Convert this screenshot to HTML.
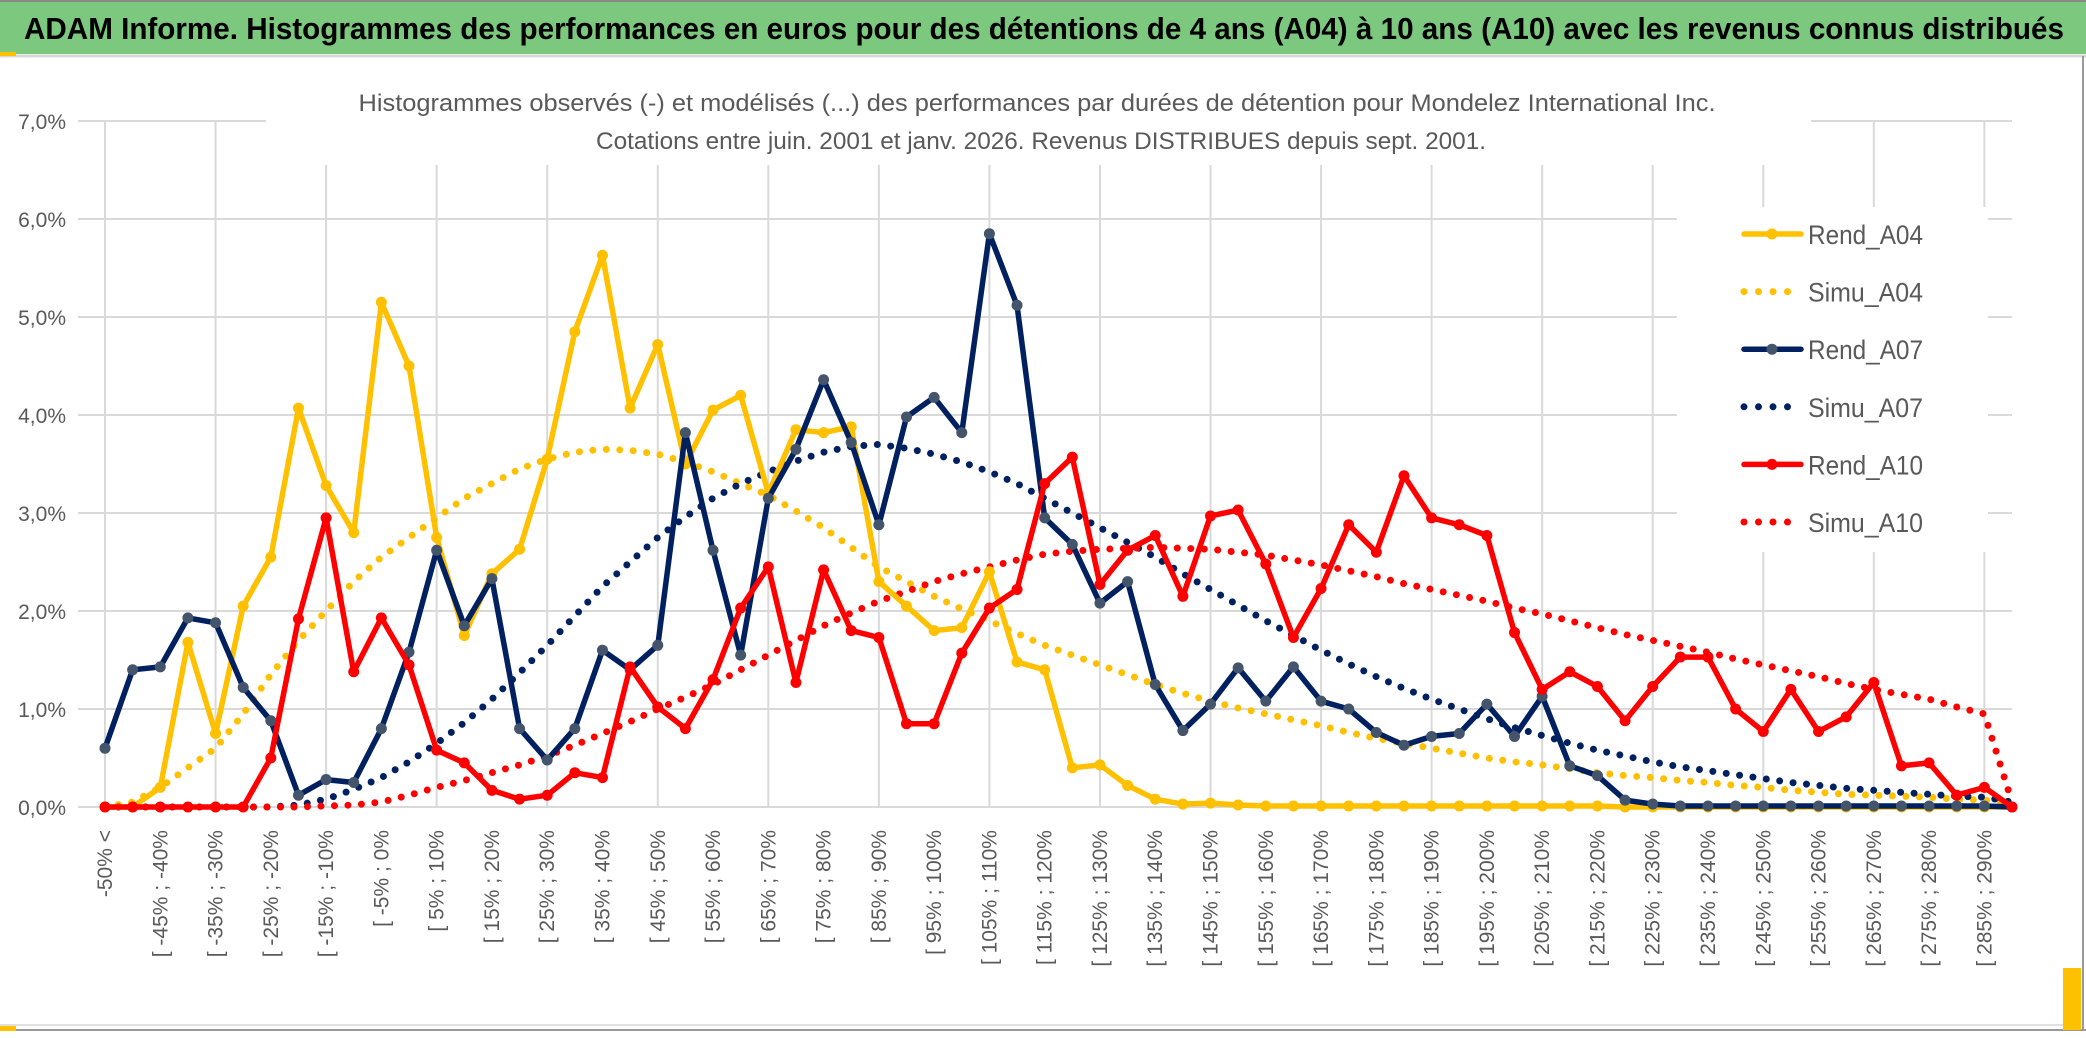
<!DOCTYPE html>
<html><head><meta charset="utf-8">
<style>
html,body{margin:0;padding:0;background:#fff;}
body{width:2086px;height:1033px;overflow:hidden;position:relative;font-family:"Liberation Sans",sans-serif;}
</style></head>
<body>
<svg id="chart" width="2086" height="1033" viewBox="0 0 2086 1033" xmlns="http://www.w3.org/2000/svg">
  <rect x="0" y="0" width="2086" height="1033" fill="#fff"/>
  <g>
    <rect x="0" y="0" width="2086" height="54" fill="#7dc87f"/>
    <line x1="0" y1="1" x2="2086" y2="1" stroke="#888" stroke-width="2"/>
    <line x1="0" y1="56" x2="2086" y2="56" stroke="#d8d8d8" stroke-width="3"/>
    <rect x="0" y="52" width="16" height="4" fill="#ffc000"/>
    <text x="24" y="39" font-size="31" font-weight="bold" fill="#000" textLength="2040" lengthAdjust="spacingAndGlyphs">ADAM Informe. Histogrammes des performances en euros pour des détentions de 4 ans (A04) à 10 ans (A10) avec les revenus connus distribués</text>
  </g>
  <line x1="2083" y1="56" x2="2083" y2="1031" stroke="#999" stroke-width="2"/>
  <line x1="0" y1="1030" x2="2086" y2="1030" stroke="#999" stroke-width="2"/>
  <line x1="0" y1="1025" x2="2066" y2="1025" stroke="#e0e0e0" stroke-width="2"/>
  <rect x="2063" y="968" width="18" height="62" fill="#ffc000"/>
  <rect x="0" y="1026" width="16" height="5" fill="#ffc000"/>
  <g id="grid"></g>
  <rect x="266" y="60" width="1545" height="105" fill="#fff"/>
  <rect x="1677" y="207" width="311" height="345" fill="#fff"/>
  <g fill="#595959" font-size="24">
    <text x="1037" y="111" text-anchor="middle" textLength="1357" lengthAdjust="spacingAndGlyphs">Histogrammes observés (-) et modélisés (...) des performances par durées de détention pour Mondelez International Inc.</text>
    <text x="1041" y="149" text-anchor="middle" textLength="890" lengthAdjust="spacingAndGlyphs">Cotations entre juin. 2001 et janv. 2026. Revenus DISTRIBUES depuis sept. 2001.</text>
  </g>
  <g id="yaxis"></g>
  <g id="xaxis"></g>
  <g id="series"></g>
  <g id="legend"></g>
</svg>
<script>
const yTicks = [0,1,2,3,4,5,6,7];
const rendA04 = [0,0,0.2,1.68,0.75,2.05,2.55,4.07,3.28,2.8,5.15,4.5,2.75,1.75,2.38,2.63,3.55,4.85,5.63,4.07,4.72,3.5,4.05,4.2,3.2,3.85,3.82,3.88,2.3,2.05,1.8,1.83,2.4,1.48,1.4,0.4,0.43,0.22,0.08,0.03,0.04,0.02,0.01,0.01,0.01,0.01,0.01,0.01,0.01,0.01,0.01,0.01,0.01,0.01,0.01,0,0,0,0,0,0,0,0,0,0,0,0,0,0,0];
const simuA04 = [0,0.05,0.2,0.4,0.6,0.95,1.35,1.7,2.0,2.3,2.55,2.75,2.95,3.15,3.3,3.45,3.55,3.62,3.65,3.64,3.6,3.52,3.42,3.3,3.18,3.02,2.85,2.65,2.45,2.3,2.15,2.02,1.9,1.77,1.65,1.55,1.45,1.35,1.25,1.16,1.08,1.01,0.95,0.89,0.83,0.76,0.7,0.65,0.6,0.55,0.5,0.46,0.43,0.39,0.35,0.32,0.3,0.27,0.25,0.22,0.2,0.17,0.15,0.13,0.12,0.11,0.1,0.08,0.07,0.04];
const rendA07 = [0.6,1.4,1.43,1.93,1.88,1.22,0.88,0.12,0.28,0.25,0.8,1.58,2.62,1.85,2.33,0.8,0.48,0.8,1.6,1.4,1.65,3.82,2.62,1.55,3.15,3.65,4.36,3.72,2.88,3.98,4.18,3.82,5.85,5.12,2.95,2.68,2.08,2.3,1.25,0.78,1.05,1.42,1.08,1.43,1.08,1.0,0.76,0.63,0.72,0.75,1.05,0.72,1.13,0.42,0.32,0.07,0.03,0.01,0.01,0.01,0.01,0.01,0.01,0.01,0.01,0.01,0.01,0.01,0.01,0];
const simuA07 = [0,0,0,0,0,0,0,0.02,0.08,0.18,0.3,0.46,0.65,0.86,1.1,1.37,1.65,1.95,2.25,2.5,2.75,2.96,3.15,3.3,3.42,3.53,3.62,3.68,3.7,3.66,3.6,3.52,3.42,3.3,3.15,3.0,2.85,2.7,2.55,2.38,2.22,2.06,1.9,1.75,1.6,1.46,1.33,1.21,1.1,1.0,0.9,0.81,0.73,0.65,0.58,0.52,0.46,0.41,0.37,0.33,0.29,0.25,0.22,0.19,0.17,0.15,0.13,0.11,0.1,0.05];
const rendA10 = [0,0,0,0,0,0,0.5,1.92,2.95,1.38,1.93,1.45,0.58,0.45,0.17,0.08,0.12,0.35,0.3,1.43,1.02,0.8,1.3,2.03,2.45,1.27,2.42,1.8,1.73,0.85,0.85,1.57,2.03,2.22,3.3,3.57,2.27,2.62,2.77,2.15,2.97,3.03,2.48,1.73,2.23,2.88,2.6,3.38,2.95,2.88,2.77,1.78,1.2,1.38,1.23,0.88,1.23,1.53,1.53,1.0,0.77,1.2,0.77,0.92,1.27,0.42,0.45,0.12,0.2,0];
const simuA10 = [0,0,0,0,0,0,0,0,0.01,0.02,0.05,0.12,0.2,0.27,0.35,0.43,0.52,0.63,0.75,0.87,1.0,1.12,1.25,1.4,1.55,1.7,1.85,1.98,2.1,2.2,2.3,2.38,2.45,2.52,2.58,2.61,2.63,2.64,2.65,2.64,2.63,2.6,2.57,2.52,2.47,2.41,2.35,2.28,2.22,2.16,2.1,2.03,1.97,1.9,1.83,1.76,1.7,1.64,1.58,1.51,1.45,1.39,1.33,1.26,1.2,1.15,1.1,1.02,0.95,0.05];
const catCount = 70;
const NS = 'http://www.w3.org/2000/svg';
const X0 = 105, X1 = 2012, Y0 = 807, Y7 = 121;
function xPos(i){ return X0 + i*(X1-X0)/(catCount-1); }
function yPos(v){ return Y0 - v*(Y0-Y7)/7; }
function catLabel(i){
  if(i===0) return '-50% <';
  const lo = -55 + 5*i, hi = -50 + 5*i;
  return '[ ' + lo + '% ; ' + hi + '%';
}
function mk(tag, attrs, parent){
  const e = document.createElementNS(NS, tag);
  for(const k in attrs) e.setAttribute(k, attrs[k]);
  parent.appendChild(e); return e;
}
const grid = document.getElementById('grid');
yTicks.forEach(t => {
  const l = mk('line', {x1:X0-27, y1:yPos(t), x2:X1, y2:yPos(t), stroke:'#d9d9d9', 'stroke-width':2}, grid);
  
  
});
for(let i=0;i<catCount;i+=4){
  const l = mk('line', {x1:xPos(i), y1:Y7, x2:xPos(i), y2:Y0, stroke:'#d9d9d9', 'stroke-width':2}, grid);
  
  
}
const yaxis = document.getElementById('yaxis');
yTicks.forEach(t => {
  const tx = mk('text', {x:66, y:yPos(t)+8, 'text-anchor':'end', 'font-size':21, fill:'#595959'}, yaxis);
  tx.textContent = t.toFixed(1).replace('.', ',') + '%';
  
  
});
const xaxis = document.getElementById('xaxis');
for(let i=0;i<catCount;i+=2){
  const x = xPos(i)+7, y = 830;
  const tx = mk('text', {x:x, y:y, 'text-anchor':'end', 'font-size':21, fill:'#595959', transform:'rotate(-90 '+x+' '+y+')'}, xaxis);
  tx.textContent = catLabel(i);
  
  
}
const series = document.getElementById('series');
function pts(arr){ return arr.map((v,i)=>xPos(i).toFixed(1)+','+yPos(v).toFixed(1)).join(' '); }
function dotted(arr, color, name){
  const p = mk('polyline', {points:pts(arr), fill:'none', stroke:color, 'stroke-width':7, 'stroke-linecap':'round', 'stroke-dasharray':'0 13.5'}, series);
  
  
}
function solid(arr, color, mcolor, name){
  const g = mk('g', {}, series);
  
  
  const p = mk('polyline', {points:pts(arr), fill:'none', stroke:color, 'stroke-width':5.5, 'stroke-linejoin':'round'}, g);
  
  
  arr.forEach((v,i)=>{
    const c = mk('circle', {cx:xPos(i), cy:yPos(v), r:5.5, fill:mcolor}, g);
    
    
  });
}
dotted(simuA04, '#ffc000', 'simu-a04-line');
dotted(simuA07, '#002060', 'simu-a07-line');
dotted(simuA10, '#ff0000', 'simu-a10-line');
solid(rendA04, '#ffc000', '#ffc000', 'rend-a04-series');
solid(rendA07, '#002060', '#44546a', 'rend-a07-series');
solid(rendA10, '#ff0000', '#ff0000', 'rend-a10-series');
const legendItems = [['Rend_A04','#ffc000','#ffc000',false],['Simu_A04','#ffc000',null,true],['Rend_A07','#002060','#44546a',false],['Simu_A07','#002060',null,true],['Rend_A10','#ff0000','#ff0000',false],['Simu_A10','#ff0000',null,true]];
const legend = document.getElementById('legend');
legendItems.forEach((it,k)=>{
  const y = 234 + k*57.6;
  const g = mk('g', {}, legend);
  
  
  if(it[3]){
    mk('line', {x1:1744, y1:y, x2:1800, y2:y, stroke:it[1], 'stroke-width':7, 'stroke-linecap':'round', 'stroke-dasharray':'0 14.5'}, g);
  } else {
    mk('line', {x1:1744, y1:y, x2:1801, y2:y, stroke:it[1], 'stroke-width':5.5, 'stroke-linecap':'round'}, g);
    mk('circle', {cx:1772, cy:y, r:5.5, fill:it[2]}, g);
  }
  const t = mk('text', {x:1808, y:y+10, 'font-size':27, fill:'#595959', textLength:115, lengthAdjust:'spacingAndGlyphs'}, g);
  t.textContent = it[0];
});
</script>
</body></html>
